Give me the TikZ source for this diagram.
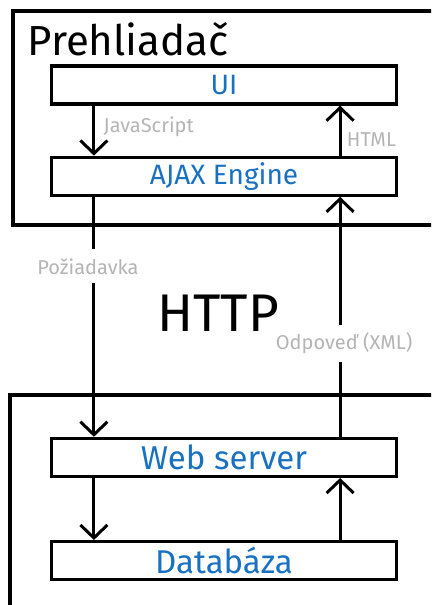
\documentclass[tikz,border=0pt]{standalone}
\usepackage{fontspec}
\setmainfont{Fira Sans}
\usetikzlibrary{positioning,arrows.meta,calc}
\definecolor{layerblue}{HTML}{1971C2}
\definecolor{notegray}{HTML}{B4B4B4}
\begin{document}
\begin{tikzpicture}[x=1pt, y=-1pt, line width=3pt, node distance=50pt,
        >={Straight Barb[length=13pt, width=27pt]},
        layer node/.style={rectangle, draw, line width=3.2pt, minimum width=345pt, minimum height=38pt, text=layerblue, font=\fontsize{28}{30}\selectfont},
        note node/.style={text=notegray, font=\fontsize{20}{22}\selectfont}]
    \clip (0,0) rectangle (431,605);
    % frames
    \draw[line width=3.2pt] (460,11) -- (13,11) -- (13,225) -- (460,225);
    \draw[line width=3.2pt] (460,395) -- (10,395) -- (10,620);
    \node[anchor=base west, inner sep=0pt, font=\fontsize{42}{44}\selectfont] (browser) at (26,55) {Prehliadač};
    % layers
    \node[layer node] (ui) at (224,85) {UI};
    \node[layer node] (ajax) [below=of ui] {AJAX Engine};
    \node[layer node, font=\fontsize{33}{35}\selectfont] (web) [below=240pt of ajax] {Web server};
    \node[layer node, font=\fontsize{33}{35}\selectfont] (db) [below=62pt of web] {Databáza};
    \coordinate (req) at ([xshift=44pt]ui.south west);
    \coordinate (resp) at ([xshift=-58pt]ui.south east);
    \node[font=\fontsize{53}{55}\selectfont] (http) at ($(ajax.south)!0.5!(web.north)+(-6,-4)$) {HTTP};
    % requests
    \draw[->] (ui.south -| req) -- node[note node, anchor=west, pos=0.42, xshift=5pt] {JavaScript} (ajax.north -| req);
    \draw[->] (ajax.south -| req) -- node[note node, fill=white, inner ysep=9pt, pos=0.29, xshift=-6pt] {Požiadavka} (web.north -| req);
    \draw[->] (web.south -| req) -- (db.north -| req);
    % responses
    \draw[->] (db.north -| resp) -- (web.south -| resp);
    \draw[->] (web.north -| resp) -- node[note node, fill=white, inner ysep=8pt, pos=0.39, xshift=4pt] {Odpoveď (XML)} (ajax.south -| resp);
    \draw[->] (ajax.north -| resp) -- node[note node, anchor=west, pos=0.32, xshift=2pt] {HTML} (ui.south -| resp);
\end{tikzpicture}
\end{document}
